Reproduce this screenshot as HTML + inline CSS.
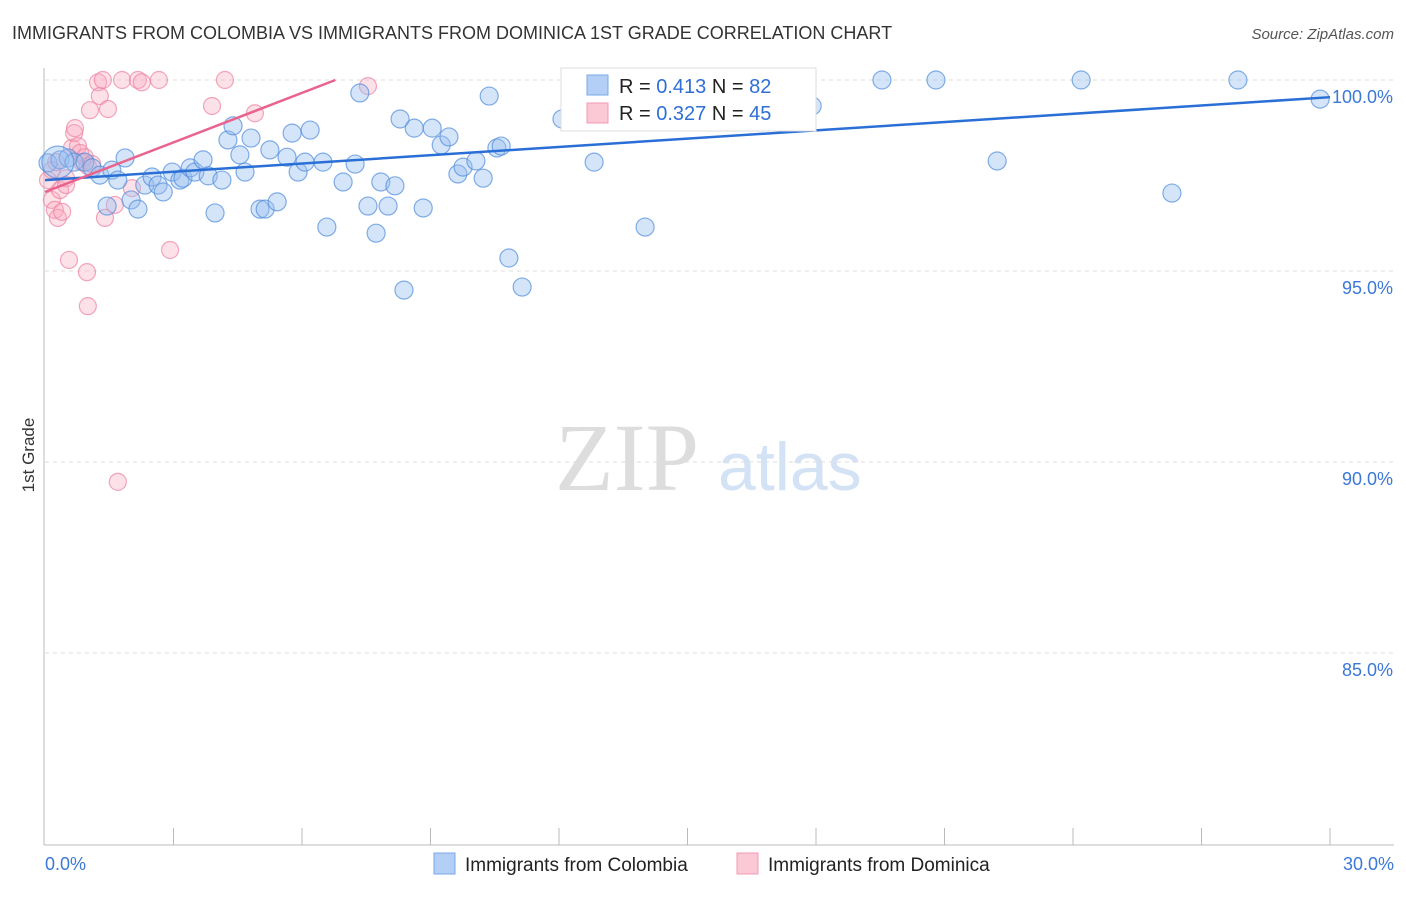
<!DOCTYPE html>
<html><head><meta charset="utf-8"><style>
body{margin:0;background:#fff;font-family:"Liberation Sans",sans-serif}
</style></head><body>
<svg id="c" width="1406" height="892" xmlns="http://www.w3.org/2000/svg" font-family="Liberation Sans, sans-serif">
<text x="12" y="39" font-size="18" fill="#333">IMMIGRANTS FROM COLOMBIA VS IMMIGRANTS FROM DOMINICA 1ST GRADE CORRELATION CHART</text>
<text x="1394" y="39" font-size="15" fill="#555" font-style="italic" text-anchor="end">Source: ZipAtlas.com</text>
<text x="34" y="455" font-size="17" fill="#333" transform="rotate(-90 34 455)" text-anchor="middle">1st Grade</text>
<text x="555" y="490" font-size="96" fill="#ddd" font-family="Liberation Serif, serif">ZIP</text>
<text x="718" y="490" font-size="68" fill="#d3e2f5">atlas</text>
<g id="grid"></g><g id="axes"></g><g id="pts"></g><g id="trend"></g>
<g>
<rect x="561" y="68" width="255" height="63" fill="#fff" stroke="#ddd"/>
<rect x="587" y="75" width="21" height="20" fill="#b3cff5" stroke="#7aa8e8"/>
<rect x="587" y="103" width="21" height="20" fill="#fbc8d6" stroke="#f09ab2"/>
<text x="619" y="93" font-size="20" fill="#222">R = <tspan fill="#2f6fd6">0.413</tspan>   N = <tspan fill="#2f6fd6">82</tspan></text>
<text x="619" y="120" font-size="20" fill="#222">R = <tspan fill="#2f6fd6">0.327</tspan>   N = <tspan fill="#2f6fd6">45</tspan></text>
</g>
<g>
<rect x="434" y="853" width="21" height="21" fill="#b3cff5" stroke="#7aa8e8"/>
<text x="465" y="871" font-size="19" fill="#222">Immigrants from Colombia</text>
<rect x="737" y="853" width="21" height="21" fill="#fbc8d6" stroke="#f09ab2"/>
<text x="768" y="871" font-size="19" fill="#222">Immigrants from Dominica</text>
</g>
</svg>
<script>
const yTicks=[100,95,90,85];
const yTickLabels=["100.0%","95.0%","90.0%","85.0%"];
const xTickLabels=["0.0%","30.0%"];
const blueX=[0.07,0.35,0.54,0.68,0.93,1.10,1.28,1.45,1.56,1.70,1.87,2.01,2.17,2.33,2.50,2.64,2.76,2.97,3.15,3.22,3.39,3.50,3.69,3.81,3.97,4.13,4.27,4.39,4.55,4.67,4.81,5.02,5.14,5.25,5.42,5.65,5.77,5.91,6.07,6.19,6.49,6.58,6.96,7.24,7.35,7.54,7.73,7.84,8.01,8.17,8.29,8.38,8.62,8.83,9.04,9.25,9.43,9.64,9.76,10.06,10.23,10.37,10.55,10.65,10.83,11.14,12.07,12.82,14.01,15.25,13.19,13.82,17.91,19.54,20.80,22.23,24.19,26.31,27.85,29.77,0.3];
const blueY=[97.83,97.91,97.96,97.85,97.85,97.70,97.51,96.70,97.64,97.38,97.96,96.86,96.62,97.25,97.46,97.25,97.07,97.59,97.38,97.43,97.70,97.59,97.91,97.49,96.52,97.38,98.43,98.80,98.04,97.59,98.48,96.62,96.62,98.17,96.81,97.98,98.61,97.59,97.85,98.69,97.85,96.15,97.33,97.80,99.66,96.70,95.99,97.33,96.70,97.23,98.98,94.50,98.74,96.65,98.74,98.30,98.51,97.54,97.72,97.88,97.43,99.58,98.22,98.27,95.34,94.58,98.98,97.85,96.15,100,100,100,99.32,100,100,97.88,100,97.04,100,99.50,97.85];
const blueR=[9,9,9,9,9,9,9,9,9,9,9,9,9,9,9,9,9,9,9,9,9,9,9,9,9,9,9,9,9,9,9,9,9,9,9,9,9,9,9,9,9,9,9,9,9,9,9,9,9,9,9,9,9,9,9,9,9,9,9,9,9,9,9,9,9,9,9,9,9,9,9,9,9,9,9,9,9,9,9,9,16];
const pinkX=[0.07,0.16,0.23,0.30,0.35,0.40,0.49,0.56,0.63,0.68,0.70,0.77,0.82,0.86,0.93,0.98,1.00,1.05,1.24,1.28,1.35,1.47,1.40,1.63,1.70,1.80,2.03,2.17,2.26,2.66,2.92,3.90,4.20,4.90,7.54,1.00,0.49,0.16,0.26,1.10];
const pinkY=[97.38,96.86,96.60,96.39,97.12,96.55,97.43,95.29,98.22,98.61,98.74,98.27,98.09,97.85,97.98,94.97,94.08,99.21,99.94,99.58,100,99.24,96.39,96.73,89.48,100,97.17,100,99.94,100,95.55,99.32,100,99.13,99.84,97.75,97.25,97.64,97.85,97.80];
const blueTrend=[97.38,99.55];
const pinkTrend=[97.07,3.0,100];
const X0=45,X1=1330,Y0=80,Ypp=38.2;
function sx(v){return X0+v/30*(X1-X0);}
function sy(v){return Y0+(100-v)*Ypp;}
const NS="http://www.w3.org/2000/svg";
function mk(t,a,p){const e=document.createElementNS(NS,t);for(const k in a)e.setAttribute(k,a[k]);document.getElementById(p).appendChild(e);return e;}
yTicks.forEach((v,i)=>{
 const l=mk('line',{x1:45,x2:1394,y1:sy(v),y2:sy(v),stroke:'#ddd','stroke-dasharray':'4,4'},'grid');
 
 
 const t=mk('text',{x:1393,y:sy(v)+23,'font-size':18,fill:'#3b78d8','text-anchor':'end'},'axes');
 t.textContent=yTickLabels[i];
 
 
});
const ax=mk('line',{x1:44,x2:44,y1:68,y2:845,stroke:'#bbb'},'axes');


const bx=mk('line',{x1:44,x2:1394,y1:845,y2:845,stroke:'#bbb'},'axes');


for(let i=1;i<=10;i++){const t=mk('line',{x1:sx(i*3),x2:sx(i*3),y1:828,y2:845,stroke:'#bbb'},'axes');
 
 }
[[0,'start',45],[30,'end',1394]].forEach((d,i)=>{const t=mk('text',{x:d[2],y:870,'font-size':18,fill:'#3b78d8','text-anchor':d[1]},'axes');t.textContent=xTickLabels[i];
 
 });
pinkX.forEach((x,i)=>{const c=mk('circle',{cx:sx(x),cy:sy(pinkY[i]),r:8.5,fill:'rgba(248,170,192,0.35)',stroke:'rgba(236,130,160,0.7)','stroke-width':1.2},'pts');
 
 });
blueX.forEach((x,i)=>{const c=mk('circle',{cx:sx(x),cy:sy(blueY[i]),r:blueR[i],fill:'rgba(150,190,240,0.4)',stroke:'rgba(80,140,220,0.7)','stroke-width':1.2},'pts');
 
 });
const bl=mk('line',{x1:sx(0),y1:sy(blueTrend[0]),x2:sx(30),y2:sy(blueTrend[1]),stroke:'#2a6fd6','stroke-width':2.5},'trend');


const pl=mk('line',{x1:sx(0),y1:sy(pinkTrend[0]),x2:sx(pinkTrend[1]*2.26),y2:sy(pinkTrend[2]),stroke:'#e8648e','stroke-width':2.5},'trend');


</script>
</body></html>
